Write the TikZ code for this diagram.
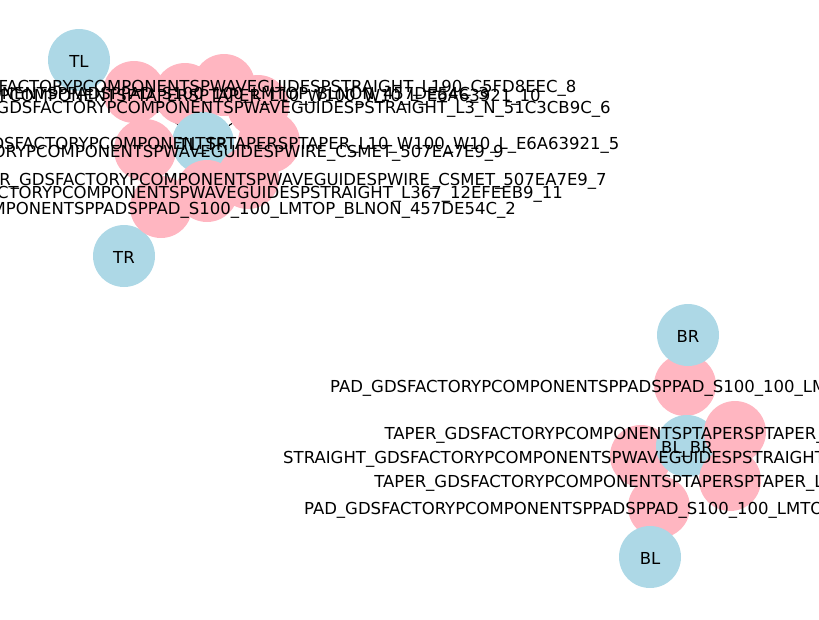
\documentclass[tikz,border=0pt]{standalone}
\usepackage{fontspec}
\setmainfont{DejaVu Sans}
\pgfdeclarelayer{background}
\pgfsetlayers{background,main}
\definecolor{portblue}{HTML}{ADD8E6}
\definecolor{partpink}{HTML}{FFB6C1}

\begin{document}
\begin{tikzpicture}[
    x=1pt, y=-1pt,
    port/.style={%
      circle,
      fill=portblue,
      minimum size=62pt,
      inner sep=0pt,
    },
    part/.style={%
      circle,
      fill=partpink,
      minimum size=62pt,
      inner sep=0pt,
    },
    lbl/.style={%
      inner sep=0pt,
      text height=14pt,
      text depth=0pt,
      font=\fontsize{16.5}{19.8}\selectfont,
    },
  ]
    \useasboundingbox (0,0) rectangle (819,619);
    \clip (0,0) rectangle (819,619);

    % upper group
    \node [port] (TR) at (124,256) {};
    \node [part] (pad3) at (134,92) {};
    \node [part] (taper10) at (185,94) {};
    \node [part] (str8) at (224,85) {};
    \node [port] (TLTR) at (203,143) {};
    \node [part] (str6) at (258,106) {};
    \node [part] (taper5) at (269,142) {};
    \node [part] (wire9) at (145,150) {};
    \node [part] (wire7) at (248,178) {};
    \node [part] (str11) at (207,191) {};
    \node [part] (pad2) at (161,207) {};
    \node [port] (TL) at (79,60) {};

    % lower group
    \node [part] (pad0) at (685,385) {};
    \node [part] (str13) at (641,456) {};
    \node [part] (pad4) at (659,507) {};
    \node [port] (BLBR) at (687,446) {};
    \node [part] (taper1) at (735,432) {};
    \node [part] (taper12) at (730,480) {};
    \node [port] (BR) at (688,335) {};
    \node [port] (BL) at (650,557) {};

    \begin{pgfonlayer}{background}
      \draw [line width=1pt] (TLTR) -- (pad3);
      \draw [line width=1pt] (TLTR) -- (str6);
    \end{pgfonlayer}

    % labels
    \node [lbl] (TL-t) at (TL) {TL};
    \node [lbl] (TR-t) at (TR) {TR};
    \node [lbl] (TLTR-t) at (TLTR) {TL\_TR};
    \node [lbl] (str8-t) at (str8) {STRAIGHT\_GDSFACTORYPCOMPONENTSPWAVEGUIDESPSTRAIGHT\_L190\_C5FD8EEC\_8};
    \node [lbl] (pad3-t) at (pad3) {PAD\_GDSFACTORYPCOMPONENTSPPADSPPAD\_S100\_100\_LMTOP\_BLNON\_457DE54C\_3};
    \node [lbl] (taper10-t) at (taper10) {TAPER\_GDSFACTORYPCOMPONENTSPTAPERSPTAPER\_L10\_W100\_W10\_L\_E6A63921\_10};
    \node [lbl] (str6-t) at (str6) {STRAIGHT\_GDSFACTORYPCOMPONENTSPWAVEGUIDESPSTRAIGHT\_L3\_N\_51C3CB9C\_6};
    \node [lbl] (taper5-t) at (taper5) {TAPER\_GDSFACTORYPCOMPONENTSPTAPERSPTAPER\_L10\_W100\_W10\_L\_E6A63921\_5};
    \node [lbl] (wire9-t) at (wire9) {WIRE\_CORNER\_GDSFACTORYPCOMPONENTSPWAVEGUIDESPWIRE\_CSMET\_507EA7E9\_9};
    \node [lbl] (wire7-t) at (wire7) {WIRE\_CORNER\_GDSFACTORYPCOMPONENTSPWAVEGUIDESPWIRE\_CSMET\_507EA7E9\_7};
    \node [lbl] (str11-t) at (str11) {STRAIGHT\_GDSFACTORYPCOMPONENTSPWAVEGUIDESPSTRAIGHT\_L367\_12EFEEB9\_11};
    \node [lbl] (pad2-t) at (pad2) {PAD\_GDSFACTORYPCOMPONENTSPPADSPPAD\_S100\_100\_LMTOP\_BLNON\_457DE54C\_2};

    \node [lbl] (BR-t) at (BR) {BR};
    \node [lbl] (BL-t) at (BL) {BL};
    \node [lbl] (BLBR-t) at (BLBR) {BL\_BR};
    \node [lbl] (pad0-t) at (pad0) {PAD\_GDSFACTORYPCOMPONENTSPPADSPPAD\_S100\_100\_LMTOP\_BLNON\_457DE54C\_0};
    \node [lbl] (taper1-t) at (taper1) {TAPER\_GDSFACTORYPCOMPONENTSPTAPERSPTAPER\_L10\_W100\_W10\_L\_E6A63921\_1};
    \node [lbl] (str13-t) at (str13) {STRAIGHT\_GDSFACTORYPCOMPONENTSPWAVEGUIDESPSTRAIGHT\_L3\_N\_51C3CB9C\_13};
    \node [lbl] (taper12-t) at (taper12) {TAPER\_GDSFACTORYPCOMPONENTSPTAPERSPTAPER\_L10\_W100\_W10\_L\_E6A63921\_12};
    \node [lbl] (pad4-t) at (pad4) {PAD\_GDSFACTORYPCOMPONENTSPPADSPPAD\_S100\_100\_LMTOP\_BLNON\_457DE54C\_4};
\end{tikzpicture}
\end{document}
